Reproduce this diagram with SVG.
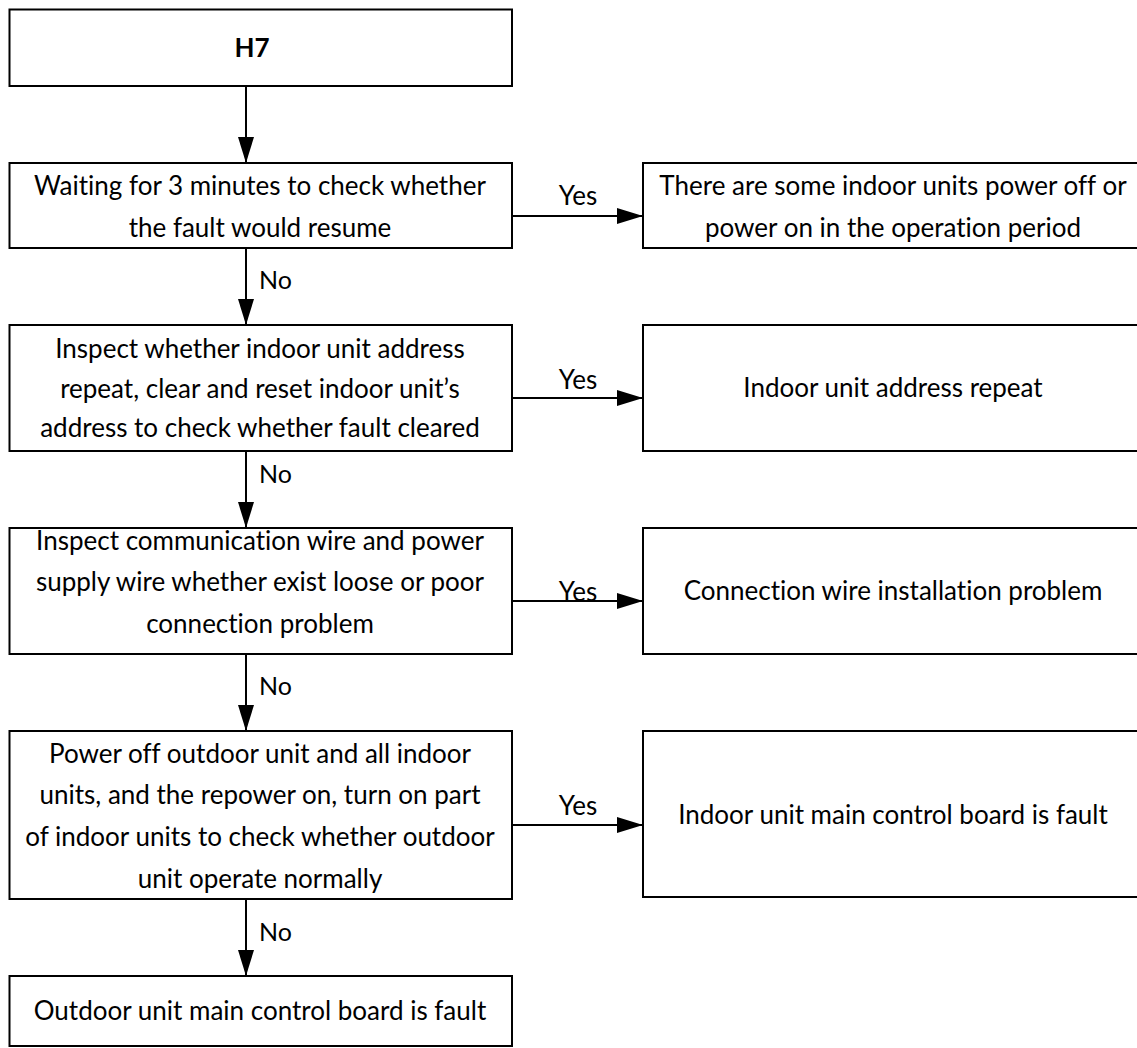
<svg xmlns="http://www.w3.org/2000/svg" width="1137" height="1048" viewBox="0 0 1137 1048">
<defs>
<style>
.box{fill:#fff;stroke:#000;stroke-width:2}
.t{font-family:Lato,"Liberation Sans",sans-serif;font-size:26px;fill:#000;text-anchor:middle;font-variant-ligatures:none}
.b{font-weight:bold}
.lbl{font-family:Lato,"Liberation Sans",sans-serif;font-size:25px;fill:#000}
.c{stroke:#000;stroke-width:2;fill:none}
</style>
<marker id="ah" markerWidth="26" markerHeight="16" refX="26" refY="8" orient="auto" markerUnits="userSpaceOnUse">
<path d="M0,0 L26,8 L0,16 Z" fill="#000"/>
</marker>
</defs>
<rect width="1137" height="1048" fill="#fff"/>
<g id="n-h7"><rect class="box" x="9.5" y="9.5" width="502.5" height="76.5"/><text class="t b" x="252" y="57">H7</text></g>
<g id="n-wait"><rect class="box" x="9.5" y="163" width="502.5" height="85"/><text class="t" x="260" y="195">Waiting for 3 minutes to check whether</text><text class="t" x="260" y="237">the fault would resume</text></g>
<g id="n-power"><rect class="box" x="643" y="163" width="498" height="85"/><text class="t" x="893" y="195">There are some indoor units power off or</text><text class="t" x="893" y="237">power on in the operation period</text></g>
<g id="n-addr"><rect class="box" x="9.5" y="325" width="502.5" height="126"/><text class="t" x="260" y="358">Inspect whether indoor unit address</text><text class="t" x="260" y="398">repeat, clear and reset indoor unit’s</text><text class="t" x="260" y="437">address to check whether fault cleared</text></g>
<g id="n-repeat"><rect class="box" x="643" y="325" width="498" height="126"/><text class="t" x="893" y="397">Indoor unit address repeat</text></g>
<g id="n-wire"><rect class="box" x="9.5" y="528" width="502.5" height="126"/><text class="t" x="260" y="550">Inspect communication wire and power</text><text class="t" x="260" y="591">supply wire whether exist loose or poor</text><text class="t" x="260" y="633">connection problem</text></g>
<g id="n-wireprob"><rect class="box" x="643" y="528" width="498" height="126"/><text class="t" x="893" y="600">Connection wire installation problem</text></g>
<g id="n-poweroff"><rect class="box" x="9.5" y="731" width="502.5" height="168"/><text class="t" x="260" y="763">Power off outdoor unit and all indoor</text><text class="t" x="260" y="804">units, and the repower on, turn on part</text><text class="t" x="260" y="846">of indoor units to check whether outdoor</text><text class="t" x="260" y="888">unit operate normally</text></g>
<g id="n-indoorfault"><rect class="box" x="643" y="731" width="498" height="166"/><text class="t" x="893" y="824">Indoor unit main control board is fault</text></g>
<g id="n-outdoorfault"><rect class="box" x="9.5" y="976" width="502.5" height="70"/><text class="t" x="260" y="1020">Outdoor unit main control board is fault</text></g>
<g id="connectors">
<line class="c" x1="246" y1="86" x2="246" y2="163" marker-end="url(#ah)"/>
<line class="c" x1="246" y1="248" x2="246" y2="325" marker-end="url(#ah)"/>
<line class="c" x1="246" y1="451" x2="246" y2="528" marker-end="url(#ah)"/>
<line class="c" x1="246" y1="654" x2="246" y2="731" marker-end="url(#ah)"/>
<line class="c" x1="246" y1="899" x2="246" y2="976" marker-end="url(#ah)"/>
<line class="c" x1="512" y1="216" x2="643" y2="216" marker-end="url(#ah)"/>
<line class="c" x1="512" y1="398" x2="643" y2="398" marker-end="url(#ah)"/>
<line class="c" x1="512" y1="601" x2="643" y2="601" marker-end="url(#ah)"/>
<line class="c" x1="512" y1="825" x2="643" y2="825" marker-end="url(#ah)"/>
<text class="lbl" x="259" y="289">No</text>
<text class="lbl" x="259" y="483">No</text>
<text class="lbl" x="259" y="695">No</text>
<text class="lbl" x="259" y="941">No</text>
<text class="t" x="578" y="205">Yes</text>
<text class="t" x="578" y="389">Yes</text>
<text class="t" x="578" y="601">Yes</text>
<text class="t" x="578" y="815">Yes</text>
</g>
</svg>
